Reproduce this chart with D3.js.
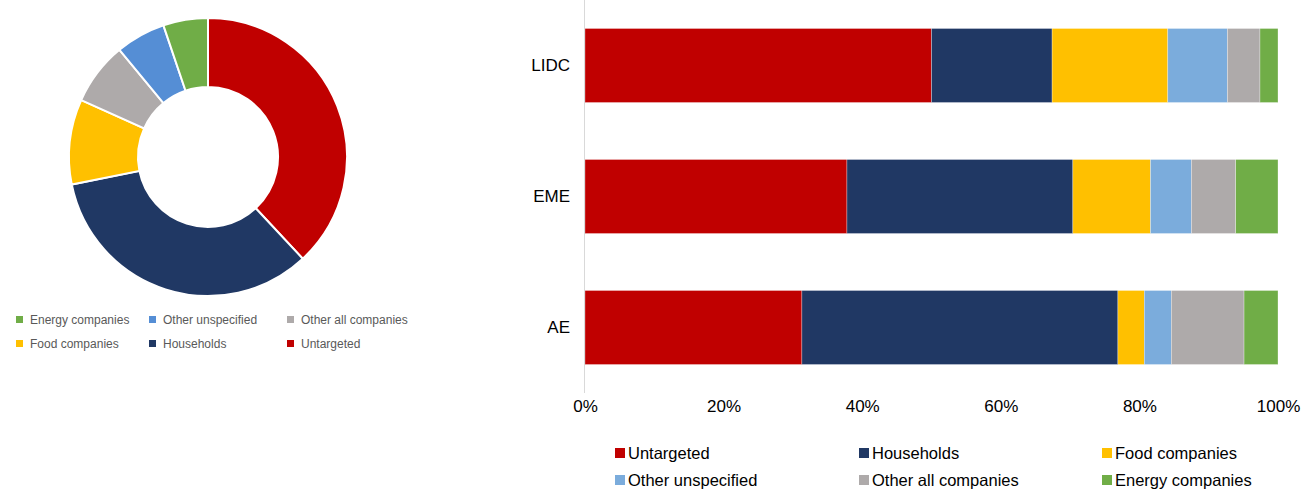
<!DOCTYPE html>
<html>
<head>
<meta charset="utf-8">
<script src="https://cdn.jsdelivr.net/npm/d3@7"></script>
<style>
  html, body { margin: 0; padding: 0; background: #fff; }
  svg { display: block; font-family: "Liberation Sans", Arial, sans-serif; }
</style>
</head>
<body>
<svg id="chart" width="1301" height="489"></svg>
<script>
// Donut: overall shares by target group (%), clockwise from 12 o'clock
const donutLabels = ["Untargeted", "Households", "Food companies", "Other all companies", "Other unspecified", "Energy companies"];
const donutValues = [38.1, 33.8, 9.9, 7.3, 5.8, 5.2];
const donutColors = ["#C00000", "#203864", "#FFC000", "#AEAAAA", "#558ED5", "#70AD47"];

// Donut legend order (two rows of three)
const donutLegendOrder = ["Energy companies", "Other unspecified", "Other all companies",
                          "Food companies", "Households", "Untargeted"];

// Stacked bars: share of each target group by country group (%)
const groups = ["LIDC", "EME", "AE"];
const seriesNames = ["Untargeted", "Households", "Food companies", "Other unspecified", "Other all companies", "Energy companies"];
const untargeted       = [50.0, 37.8, 31.3];
const households       = [17.4, 32.6, 45.6];
const foodCompanies    = [16.7, 11.2, 3.8];
const otherUnspecified = [8.6, 5.9, 3.9];
const otherAllCompanies= [4.7, 6.4, 10.5];
const energyCompanies  = [2.6, 6.1, 4.9];
const barColors = ["#C00000", "#203864", "#FFC000", "#7BACDC", "#AEAAAA", "#70AD47"];
const xTicks = [0, 20, 40, 60, 80, 100];

const svg = d3.select("#chart");

// ---------- Donut ----------
const colorOf = d3.scaleOrdinal().domain(donutLabels).range(donutColors);
const pie = d3.pie().sort(null).value(d => d.v);
const arc = d3.arc().innerRadius(70).outerRadius(139);
const donutData = donutLabels.map((k, i) => ({ k, v: donutValues[i] }));

const donut = svg.append("g").attr("transform", "translate(208,157)");
donut.selectAll("path")
  .data(pie(donutData))
  .join("path")
  .attr("d", arc)
  .attr("fill", d => colorOf(d.data.k))
  .attr("stroke", "#fff")
  .attr("stroke-width", 2);

// Donut legend
const legColX = [16, 149, 287];
const legRowY = [319.5, 343.5];
const leftLegend = svg.append("g");
donutLegendOrder.forEach((name, i) => {
  const x = legColX[i % 3], y = legRowY[Math.floor(i / 3)];
  leftLegend.append("rect")
    .attr("x", x).attr("y", y - 3.5).attr("width", 7).attr("height", 7)
    .attr("fill", colorOf(name));
  leftLegend.append("text")
    .attr("x", x + 14).attr("y", y).attr("dy", "0.35em")
    .attr("font-size", 12).attr("fill", "#595959")
    .text(name);
});

// ---------- Stacked bars ----------
const rows = groups.map((g, i) => ({
  group: g,
  "Untargeted": untargeted[i],
  "Households": households[i],
  "Food companies": foodCompanies[i],
  "Other unspecified": otherUnspecified[i],
  "Other all companies": otherAllCompanies[i],
  "Energy companies": energyCompanies[i]
}));

const x = d3.scaleLinear().domain([0, 100]).range([585, 1278]);
const y = d3.scaleBand().domain(groups).range([0, 393]).paddingInner(0.435).paddingOuter(0.2175);
const barColor = d3.scaleOrdinal().domain(seriesNames).range(barColors);

const stacked = d3.stack().keys(seriesNames)(rows);

const bars = svg.append("g");
bars.selectAll("g")
  .data(stacked)
  .join("g")
  .attr("fill", s => barColor(s.key))
  .selectAll("rect")
  .data(s => s)
  .join("rect")
  .attr("x", d => x(d[0]))
  .attr("y", d => y(d.data.group))
  .attr("width", d => x(d[1]) - x(d[0]))
  .attr("height", y.bandwidth())
  .attr("stroke", "#fff")
  .attr("stroke-width", 0.5)
  .attr("stroke-opacity", 0.6);

// Vertical axis line
svg.append("line")
  .attr("x1", 584.5).attr("x2", 584.5)
  .attr("y1", 0).attr("y2", 393)
  .attr("stroke", "#D9D9D9").attr("stroke-width", 1);

// Category labels
const yAxis = svg.append("g")
  .attr("transform", "translate(570,0)")
  .call(d3.axisLeft(y).tickSize(0).tickPadding(0));
yAxis.select(".domain").remove();
yAxis.selectAll("text")
  .attr("font-size", 17).attr("fill", "#000")
  .attr("font-family", "'Liberation Sans', Arial, sans-serif");

// Percentage ticks
const xAxis = svg.append("g")
  .attr("transform", "translate(0,400)")
  .call(d3.axisBottom(x).tickValues(xTicks).tickFormat(d => d + "%").tickSize(0).tickPadding(0));
xAxis.select(".domain").remove();
xAxis.selectAll("text")
  .attr("font-size", 17).attr("fill", "#000")
  .attr("font-family", "'Liberation Sans', Arial, sans-serif");

// Bar legend
const bColX = [615, 859, 1102];
const bRowY = [453, 480];
const bottomLegend = svg.append("g");
seriesNames.forEach((name, i) => {
  const cx = bColX[i % 3], cy = bRowY[Math.floor(i / 3)];
  bottomLegend.append("rect")
    .attr("x", cx).attr("y", cy - 5).attr("width", 10).attr("height", 10)
    .attr("fill", barColor(name));
  bottomLegend.append("text")
    .attr("x", cx + 13).attr("y", cy).attr("dy", "0.35em")
    .attr("font-size", 16.5).attr("fill", "#000")
    .text(name);
});
</script>
</body>
</html>
